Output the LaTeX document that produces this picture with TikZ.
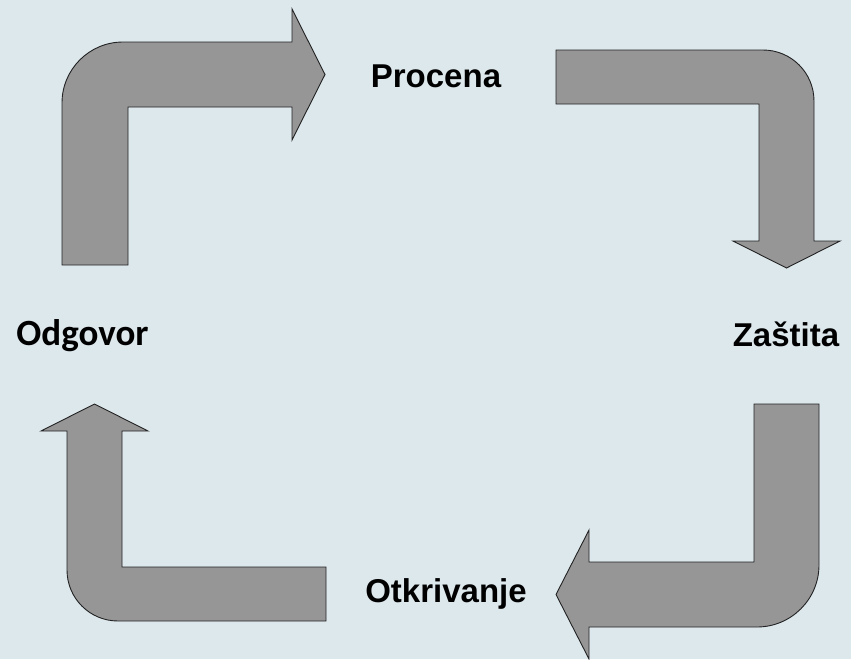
\documentclass[tikz,border=0pt]{standalone}
\usepackage{fontspec}
\setmainfont{Liberation Sans}
\newfontfamily\calfont{Carlito}
\definecolor{bg}{HTML}{DDE8ED}
\definecolor{arrowfill}{HTML}{969696}
\definecolor{arrowline}{HTML}{222222}
\tikzset{
  bentarrow/.style={fill=arrowfill, draw=arrowline, line width=0.9pt, line join=miter},
  lbl/.style={anchor=base, inner sep=0pt, font=\fontsize{33}{38}\selectfont\bfseries},
}
\begin{document}
\begin{tikzpicture}[x=1pt, y=-1pt]
\fill[bg] (0,0) rectangle (851,659);
\useasboundingbox (0,0) rectangle (851,659);
% top-left arrow (to Procena)
\draw[bentarrow] (62,265) -- (62,103) .. controls (62,69.3) and (89.3,42) .. (123,42)
  -- (292,42) -- (292,9) -- (325,74.5) -- (292,140) -- (292,107) -- (128,107) -- (128,265) -- cycle;
% top-right arrow (to Zastita)
\draw[bentarrow] (556,50) -- (763,50) .. controls (791.2,50) and (814,72.8) .. (814,101)
  -- (814,241) -- (840,241) -- (786.5,268) -- (733,241) -- (759,241) -- (759,104) -- (556,104) -- cycle;
% bottom-right arrow (to Otkrivanje)
\draw[bentarrow] (754,404) -- (819,404) -- (819,565) .. controls (819,599.2) and (791.2,627) .. (757,627)
  -- (589,627) -- (589,659) -- (556,594.5) -- (589,530) -- (589,562) -- (754,562) -- cycle;
% bottom-left arrow (to Odgovor)
\draw[bentarrow] (326,567) -- (326,621) -- (118,621) .. controls (89.8,621) and (67,598.2) .. (67,570)
  -- (67,431) -- (41,431) -- (94.5,404) -- (148,431) -- (122,431) -- (122,567) -- cycle;
\node[lbl] (procena) at (436,87) {Procena};
\node[lbl] (zastita) at (786,346) {Zaštita};
\node[lbl] (otkrivanje) at (446,602) {Otkrivanje};
\node[lbl, font=\fontsize{37}{42}\selectfont\bfseries\calfont] (odgovor) at (82.5,345) {Odgovor};
\end{tikzpicture}
\end{document}
